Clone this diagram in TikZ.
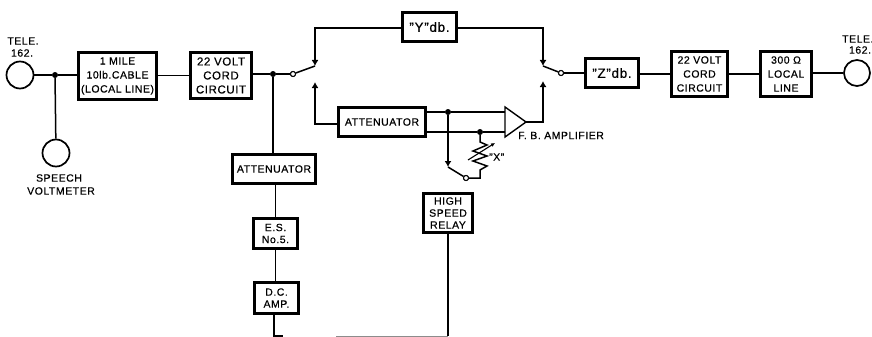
\documentclass[tikz,border=0pt]{standalone}
\usepackage{fontspec}
\setmainfont{Liberation Sans}[LetterSpace=5,FakeBold=0.5]
\usetikzlibrary{arrows.meta,positioning}
\tikzset{
  x=1pt,y=-1pt,
  every node/.style={font=\fontsize{10.5}{14}\selectfont},
  tightlines/.style={font=\fontsize{10.5}{12}\selectfont},
  bigtext/.style={font=\fontsize{13.5}{14}\selectfont},
  blockbox/.style={draw=black,line width=2.4pt,inner sep=0pt,align=center,anchor=center,fill=white},
  txt/.style={inner sep=0pt,align=center},
  wire/.style={line width=1.5pt,black},
  dotj/.style={circle,fill=black,inner sep=0pt,minimum size=6pt},
  opencontact/.style={circle,draw=black,fill=white,line width=1pt,inner sep=0pt,minimum size=5pt},
  tele/.style={circle,draw=black,line width=1.7pt,inner sep=0pt,fill=white},
  tipwire/.style={wire,-{Latex[length=6pt,width=7pt]}}
}
\begin{document}
\begin{tikzpicture}
\useasboundingbox (0,0) rectangle (872,337);
% blocks
\node[blockbox,minimum width=78pt,minimum height=47pt] (mile) at (117.5,76) {1 MILE\\10lb.CABLE\\(LOCAL LINE)};
\node[blockbox,minimum width=61pt,minimum height=46pt,font=\fontsize{11.5}{14}\selectfont] (cordL) at (221,75.5) {22 VOLT\\CORD\\CIRCUIT};
\node[blockbox,minimum width=83pt,minimum height=29pt] (attL) at (274,169) {ATTENUATOR};
\node[blockbox,tightlines,minimum width=44pt,minimum height=30pt] (es) at (275.5,233.5) {E.S.\\No.5.};
\node[blockbox,tightlines,minimum width=44pt,minimum height=31pt] (dc) at (276.5,298) {D.C.\\AMP.};
\node[blockbox,tightlines,minimum width=49pt,minimum height=39pt] (relay) at (448,213) {HIGH\\SPEED\\RELAY};
\node[blockbox,bigtext,minimum width=54pt,minimum height=29pt] (ydb) at (429.5,27) {"Y"db.};
\node[blockbox,minimum width=87pt,minimum height=29pt] (attM) at (382,122) {ATTENUATOR};
\node[blockbox,bigtext,minimum width=53pt,minimum height=29pt] (zdb) at (612,73) {"Z"db.};
\node[blockbox,minimum width=56pt,minimum height=45pt] (cordR) at (699.5,74) {22 VOLT\\CORD\\CIRCUIT};
\node[blockbox,minimum width=51pt,minimum height=45pt] (local) at (786,74) {300 Ω\\LOCAL\\LINE};
% telephones / meter
\node[tele,minimum size=27pt] (teleL) at (20,75) {};
\node[tele,minimum size=27pt] (meter) at (56,153) {};
\node[tele,minimum size=26pt] (teleR) at (857,73) {};
% junctions and contacts
\node[dotj] (j1) at (55,75) {};
\node[dotj] (j2) at (273,74) {};
\node[dotj] (j3) at (448,112) {};
\node[dotj] (j4) at (480,132) {};
\node[opencontact] (swL) at (293,74) {};
\node[opencontact] (swR) at (561,73) {};
\node[opencontact] (swX) at (466,178) {};
% switch points
\coordinate (pLa) at (315,66);
\coordinate (pRa) at (543,66);
\coordinate (pXa) at (448,167);
\coordinate (pLb) at (315,82);
\coordinate (pRb) at (543,81);
\coordinate (cLt) at (315,28);
\coordinate (cRt) at (543,28);
\coordinate (cLb) at (315,124);
\coordinate (ampT) at (505,107);
\coordinate (ampB) at (505,137);
\coordinate (ampO) at (526,122);
\coordinate (ampI1) at (505,112);
\coordinate (ampI2) at (505,132);
\coordinate (attO1) at (426,112);
\coordinate (attO2) at (426,132);
\coordinate (cOut) at (543,122);
\coordinate (cX) at (480,178);
\coordinate (botL) at (274,336);
\coordinate (botLe) at (283,336);
\coordinate (botR) at (448,336);
\coordinate (botM) at (336,336);
% wires
\draw[wire] (teleL) -- (j1) -- (mile.west|-j1);
\draw[wire] (j1) -- (meter);
\draw[wire] (mile.east|-cordL) -- (cordL);
\draw[wire] (cordL.east|-j2) -- (j2) -- (swL);
\draw[wire] (j2) -- (attL.north-|j2);
\draw[wire] (attL.south-|es) -- (es);
\draw[wire] (es) -- (es|-dc.north);
\draw[wire] (dc.south-|botL) -- (botL) -- (botLe);
\draw[wire,black!45,line width=1pt] (botM) -- (botR);
\draw[wire] (relay) -- (botR);
\draw[wire] (swL) -- (pLa);
\draw[wire] (swR) -- (pRa);
\draw[wire] (swX) -- (pXa);
\draw[tipwire] (ydb.west|-cLt) -- (cLt) -- (pLa);
\draw[tipwire] (ydb.east|-cRt) -- (cRt) -- (pRa);
\draw[tipwire] (attM.west|-cLb) -- (cLb) -- (pLb);
\draw[tipwire] (ampO) -- (cOut) -- (pRb);
\draw[wire] (swR) -- (swR-|zdb.west);
\draw[wire] (zdb.east|-cordR) -- (cordR);
\draw[wire] (cordR.east) -- (local.west);
\draw[wire] (local.east|-teleR) -- (teleR);
\draw[wire] (attO1) -- (j3) -- (ampI1);
\draw[wire] (attO2) -- (j4) -- (ampI2);
\draw[tipwire] (j3) -- (pXa);
\draw[wire,fill=white,line width=1.4pt] (ampT) -- (ampO) -- (ampB) -- cycle;
% redraw contacts above the arms
\node[opencontact] at (swL) {};
\node[opencontact] at (swR) {};
\node[opencontact] at (swX) {};
% variable resistor X
\draw[wire,line join=miter] (j4) -- (480,142) -- (487,145) -- (473,151) -- (487,156) -- (473,161) -- (487,166) -- (480,170) -- (cX) -- (swX);
\draw[wire,line width=1.1pt,-{Latex[length=4pt,width=4pt]}] (468,160) -- (495,143);
% labels
\node[txt] (lT1) at (23,41) {TELE.};
\node[txt] (lT2) at (22,53) {162.};
\node[txt] (lS1) at (59,178) {SPEECH};
\node[txt] (lS2) at (61,191) {VOLTMETER};
\node[txt,anchor=west] (lT3) at (842,39) {TELE.};
\node[txt] (lT4) at (860,50) {162.};
\node[txt,anchor=west] (lF) at (518,135.5) {F. B. AMPLIFIER};
\node[txt,anchor=west] (lX) at (489,157) {"X"};
\end{tikzpicture}
\end{document}
